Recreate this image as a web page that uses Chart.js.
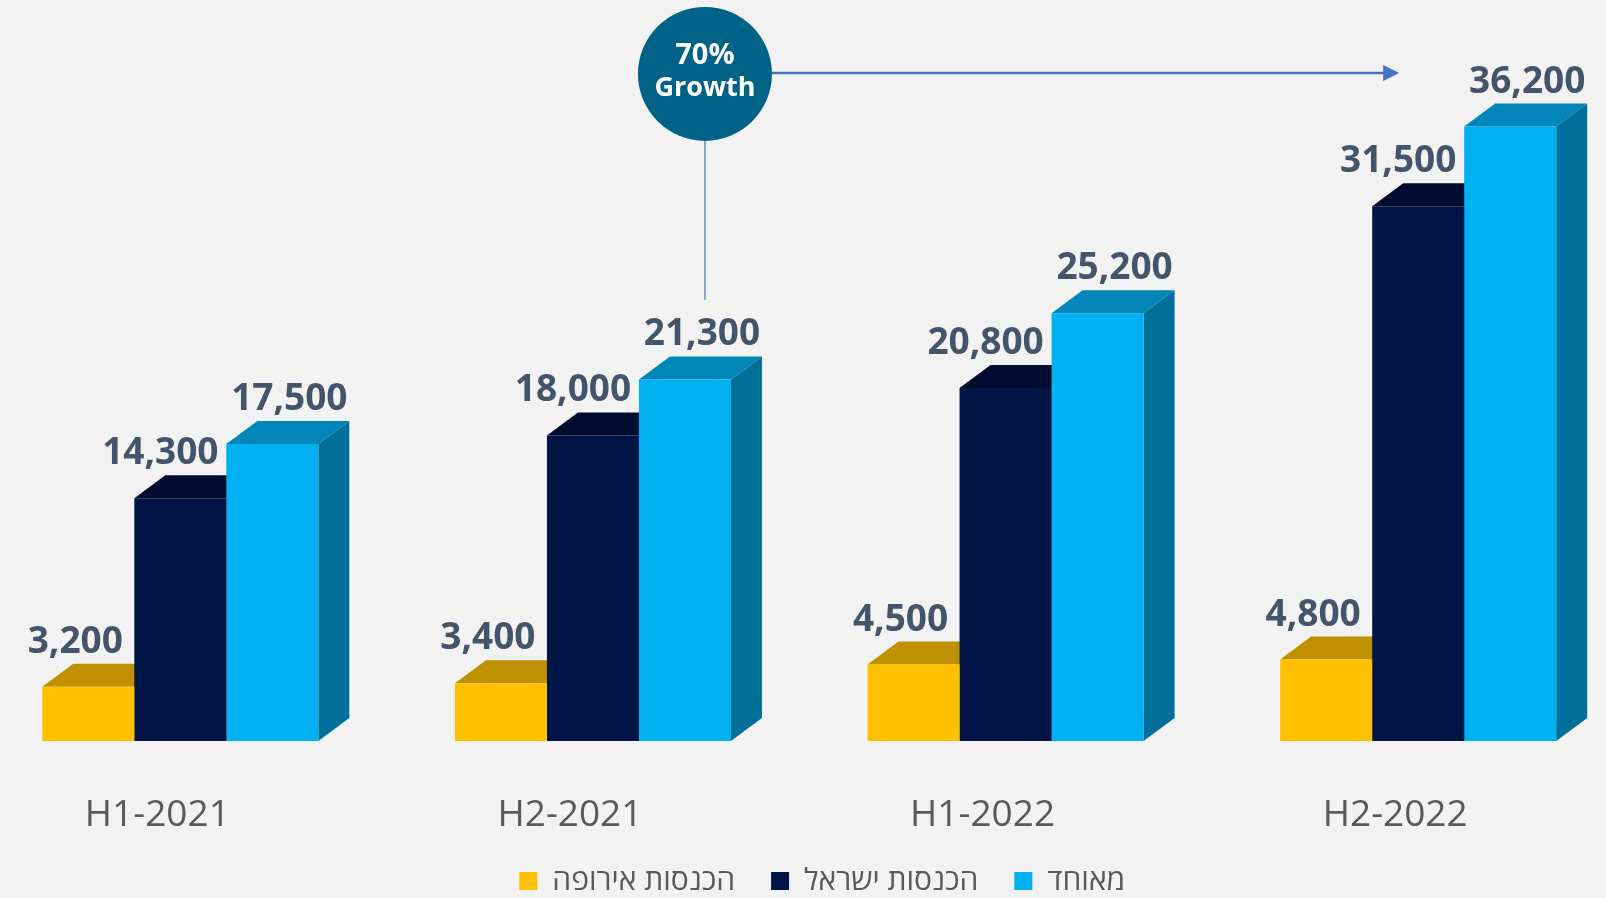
<!DOCTYPE html>
<html>
<head>
<meta charset="utf-8">
<title>Revenue growth</title>
<script src="https://cdn.jsdelivr.net/npm/chart.js@4.4.1/dist/chart.umd.min.js"></script>
<style>
  html, body { margin: 0; padding: 0; background: #f2f2f2; overflow: hidden; }
  #wrap { position: absolute; left: -40px; top: 0; width: 1740px; height: 898px; }
</style>
</head>
<body>
<div id="wrap"><canvas id="revenueChart"></canvas></div>
<script>
const periods = ['H1-2021', 'H2-2021', 'H1-2022', 'H2-2022'];
const seriesNames = ['הכנסות אירופה', 'הכנסות ישראל', 'מאוחד'];
const europeRevenue = [3200, 3400, 4500, 4800];
const israelRevenue = [14300, 18000, 20800, 31500];
const mergedRevenue = [17500, 21300, 25200, 36200];

const frontColors = ['#FFC000', '#001446', '#00B0F0'];
const topColors = ['#BF9000', '#000B30', '#0086B8'];
const sideColors = ['#A67C00', '#000A2A', '#006F99'];
const labelShift = [-13, -20, 17];
const depthX = 31, depthY = 23;
const FONT = '"Open Sans", "DejaVu Sans", sans-serif';

// tops and right sides of the bars, the fronts are drawn by chart.js on top
const bar3d = {
    id: 'bar3d',
    beforeDatasetsDraw(chart) {
        const ctx = chart.ctx;
        chart.data.datasets.forEach((ds, i) => {
            chart.getDatasetMeta(i).data.forEach(bar => {
                const p = bar.getProps(['x', 'y', 'base', 'width'], true);
                const l = p.x - p.width / 2, r = p.x + p.width / 2;
                ctx.fillStyle = topColors[i];
                ctx.beginPath();
                ctx.moveTo(l, p.y);
                ctx.lineTo(l + depthX, p.y - depthY);
                ctx.lineTo(r + depthX, p.y - depthY);
                ctx.lineTo(r, p.y);
                ctx.closePath();
                ctx.fill();
                ctx.fillStyle = sideColors[i];
                ctx.beginPath();
                ctx.moveTo(r, p.y);
                ctx.lineTo(r + depthX, p.y - depthY);
                ctx.lineTo(r + depthX, p.base - depthY);
                ctx.lineTo(r, p.base);
                ctx.closePath();
                ctx.fill();
            });
        });
    },
    afterDatasetsDraw(chart) {
        const ctx = chart.ctx;
        ctx.save();
        ctx.font = 'bold 37px ' + FONT;
        ctx.fillStyle = '#44546A';
        ctx.textAlign = 'center';
        ctx.textBaseline = 'alphabetic';
        chart.data.datasets.forEach((ds, i) => {
            chart.getDatasetMeta(i).data.forEach((bar, j) => {
                ctx.fillText(ds.data[j].toLocaleString('en-US'), bar.x + labelShift[i], bar.y - 34);
            });
        });
        ctx.restore();
    }
};

// "70% Growth" bubble with the arrow
const growthNote = {
    id: 'growthNote',
    afterDraw(chart) {
        const ctx = chart.ctx;
        const xs = chart.scales.x, ys = chart.scales.y;
        const cx = xs.getPixelForValue(1) + 112;
        const cy = ys.getPixelForValue(39300);
        const rad = 67;
        const tipX = xs.getPixelForValue(3) - 19;
        const growth = Math.round((mergedRevenue[3] / mergedRevenue[1] - 1) * 100);
        ctx.save();
        ctx.strokeStyle = '#4472C4';
        ctx.lineWidth = 1.2;
        ctx.beginPath();
        ctx.moveTo(cx, cy + rad);
        ctx.lineTo(cx, ys.getPixelForValue(26000));
        ctx.stroke();
        ctx.lineWidth = 2.5;
        ctx.beginPath();
        ctx.moveTo(cx + rad, cy - 1);
        ctx.lineTo(tipX - 12, cy - 1);
        ctx.stroke();
        ctx.fillStyle = '#4472C4';
        ctx.beginPath();
        ctx.moveTo(tipX, cy - 1);
        ctx.lineTo(tipX - 16, cy - 9);
        ctx.lineTo(tipX - 16, cy + 7);
        ctx.closePath();
        ctx.fill();
        ctx.fillStyle = '#006286';
        ctx.beginPath();
        ctx.arc(cx, cy, rad, 0, Math.PI * 2);
        ctx.fill();
        ctx.fillStyle = '#ffffff';
        ctx.textAlign = 'center';
        ctx.textBaseline = 'middle';
        ctx.font = 'bold 29px ' + FONT;
        ctx.fillText(growth + '%', cx, cy - 18);
        ctx.font = 'bold 27px ' + FONT;
        ctx.fillText('Growth', cx, cy + 14);
        ctx.restore();
    }
};

const ctx = document.getElementById('revenueChart').getContext('2d');
window.revenueChart = new Chart(ctx, {
    type: 'bar',
    data: {
        labels: periods,
        datasets: [
            { label: seriesNames[0], data: europeRevenue, backgroundColor: frontColors[0] },
            { label: seriesNames[1], data: israelRevenue, backgroundColor: frontColors[1] },
            { label: seriesNames[2], data: mergedRevenue, backgroundColor: frontColors[2] }
        ]
    },
    options: {
        responsive: true,
        maintainAspectRatio: false,
        animation: false,
        datasets: {
            bar: { categoryPercentage: 0.669, barPercentage: 1.0, borderWidth: 0 }
        },
        layout: { padding: { left: 14, right: 29.5, top: 62, bottom: -8 } },
        scales: {
            x: {
                grid: { display: false, drawTicks: false },
                border: { display: false },
                ticks: { color: '#595959', font: { family: FONT, size: 37 }, padding: 52, labelOffset: -23 },
                afterFit(s) { s.height = 89; }
            },
            y: {
                position: 'right',
                min: 0,
                max: 40000,
                grid: { display: false },
                border: { display: false },
                ticks: { display: false },
                afterFit(s) { s.width = 46; }
            }
        },
        plugins: {
            legend: {
                position: 'bottom',
                labels: {
                    boxWidth: 18,
                    boxHeight: 18,
                    padding: 36,
                    color: '#595959',
                    font: { family: FONT, size: 30 }
                }
            },
            tooltip: { enabled: false }
        }
    },
    plugins: [bar3d, growthNote]
});
</script>
</body>
</html>
